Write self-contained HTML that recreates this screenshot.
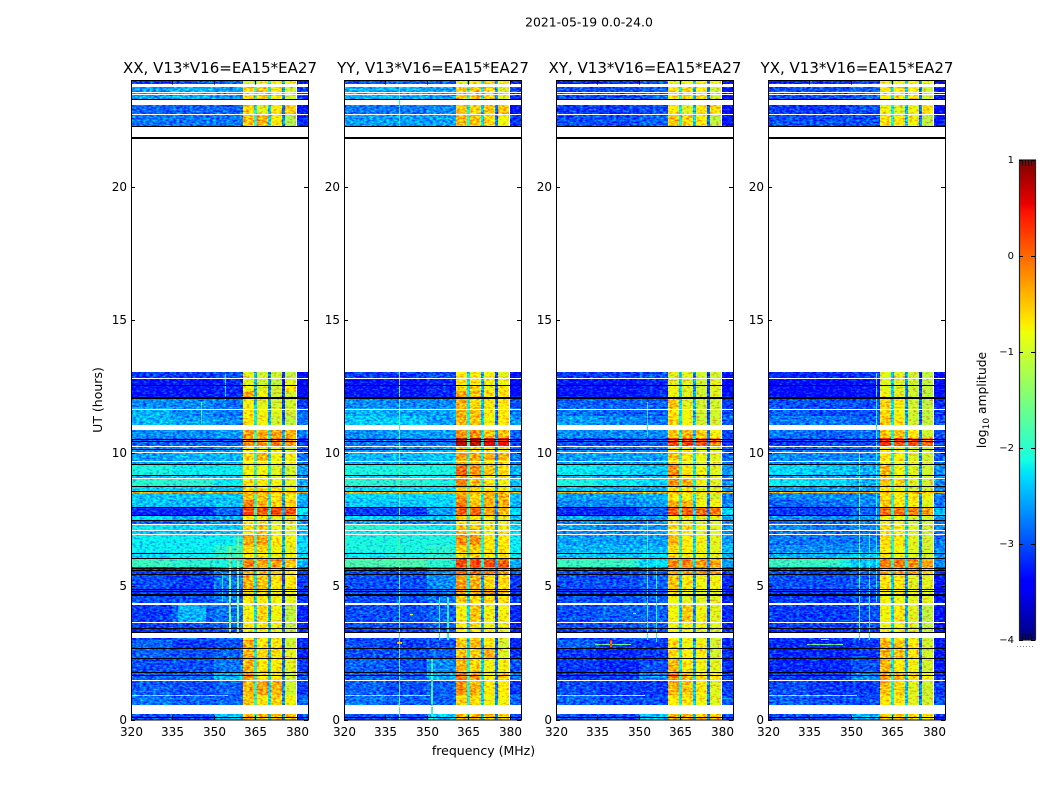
<!DOCTYPE html>
<html>
<head>
<meta charset="utf-8">
<title>2021-05-19 0.0-24.0</title>
<style>
html,body{margin:0;padding:0;background:#fff;}
svg{display:block;font-family:"DejaVu Sans","Liberation Sans",sans-serif;}
</style>
</head>
<body>
<svg id="chart" width="1050" height="800" viewBox="0 0 1050 800" xmlns="http://www.w3.org/2000/svg">
<rect width="1050" height="800" fill="#fff"/>
<text x="589" y="26.5" font-size="12.4" text-anchor="middle">2021-05-19 0.0-24.0</text>
<text x="483.5" y="755" font-size="12.5" text-anchor="middle">frequency (MHz)</text>
<text x="102" y="400" font-size="12.5" text-anchor="middle" transform="rotate(-90 102 400)">UT (hours)</text>
<text x="986" y="400" font-size="12.3" text-anchor="middle" transform="rotate(-90 986 400)">log<tspan font-size="9" dy="3">10</tspan><tspan dy="-3"> amplitude</tspan></text>
<defs id="defs">
<linearGradient id="jetGradient" x1="0" y1="1" x2="0" y2="0"></linearGradient>
</defs>
<g id="panels"></g>
<g id="colorbar"></g>
</svg>
<script>
// ---- Axis data ----
const xTickValues = [320, 335, 350, 365, 380];
const yTickValues = [0, 5, 10, 15, 20];
const colorbarTickValues = [1, 0, -1, -2, -3, -4];
const colorbarMinorValues = [0.92, 0.96, -3.96, -3.92];
const panelTitles = ['XX, V13*V16=EA15*EA27', 'YY, V13*V16=EA15*EA27', 'XY, V13*V16=EA15*EA27', 'YX, V13*V16=EA15*EA27'];

// ---- Frequency columns of each row (MHz edges) ----
const columnLow  = [320, 335, 350, 360.4, 365.7, 370.7, 375.7, 380];
const columnHigh = [335, 350, 360.4, 364.6, 369.6, 374.6, 379.8, 384];
const gapLow  = [364.6, 369.6, 374.6];
const gapHigh = [365.7, 370.7, 375.7];
const gapOffsets = [0.1, -0.2, -0.6];

// ---- Observation rows (UT hours) ----
const rowTop = [23.96,23.73,23.06,22.72,13.04,12.81,12.57,12.33,12.06,11.69,11.39,10.86,10.56,10.26,10.04,9.74,9.57,9.19,9.06,8.76,8.50,8.24,7.97,7.67,7.49,7.34,7.11,6.96,6.55,6.29,6.06,5.72,5.46,4.90,4.67,4.30,3.62,3.43,3.06,2.98,2.68,2.31,1.78,1.44,0.92,0.21];
const rowBottom = [23.85,23.28,22.72,22.27,12.81,12.57,12.33,12.06,11.69,11.39,11.07,10.56,10.26,10.04,9.74,9.57,9.19,9.06,8.76,8.50,8.24,7.97,7.67,7.49,7.34,7.11,6.96,6.55,6.29,6.06,5.72,5.46,4.90,4.67,4.37,3.66,3.43,3.25,2.98,2.68,2.31,1.78,1.50,0.92,0.54,0];

// ---- log10 amplitude per row: c320-335, c335-350, c350-360, band1..4, gaps, c380-384 ----
const valuesXX = [
[-3.1,-3.0,-2.9,-1.0,-.8,-.7,-.8,-2.0,-3.2],
[-2.6,-2.5,-2.6,-.6,-.5,-.7,-1.0,-2.0,-3.1],
[-2.9,-2.9,-2.9,-.6,-.9,-.7,-.5,-2.2,-3.3],
[-2.8,-2.8,-2.8,-.5,-.4,-.7,-1.2,-2.1,-3.2],
[-3.1,-3.1,-3.0,-.9,-1.0,-1.0,-1.1,-2.6,-3.4],
[-3.3,-3.3,-3.2,-.9,-1.0,-1.1,-.9,-2.6,-3.5],
[-3.3,-3.3,-3.2,-.8,-.9,-1.0,-.7,-2.6,-3.5],
[-3.3,-3.3,-3.2,-.3,-.8,-1.0,-1.0,-2.6,-3.5],
[-2.7,-2.7,-2.8,-.8,-.9,-1.0,-1.0,-2.5,-3.1],
[-2.5,-2.7,-2.8,-.7,-.8,-.9,-1.0,-2.4,-2.9],
[-2.5,-2.6,-2.7,-.7,-.8,-1.0,-1.1,-2.3,-2.8],
[-2.7,-2.7,-2.6,-.3,-.4,-.3,-.4,-2.0,-2.8],
[-2.9,-2.9,-2.9,-.2,-.2,-.1,-.3,-2.0,-3.1],
[-2.7,-2.7,-2.6,-.7,-.8,-.8,-1.0,-2.2,-2.9],
[-2.6,-2.5,-2.5,-.6,-.4,-.8,-.8,-2.1,-2.8],
[-2.6,-2.6,-2.5,-.7,-.7,-.8,-.8,-2.1,-2.8],
[-2.1,-2.2,-2.2,-.8,-.8,-.9,-1.0,-2.0,-2.6],
[-2.5,-2.4,-2.4,-.8,-.8,-.9,-1.0,-2.0,-2.7],
[-2.0,-2.0,-2.2,-.7,-.7,-.8,-.9,-1.9,-2.5],
[-2.3,-2.4,-2.4,-.6,-.6,-.7,-.8,-1.9,-2.5],
[-2.4,-2.4,-2.4,-.4,-.5,-.7,-.8,-2.0,-2.5],
[-2.4,-2.5,-2.4,-.15,-.4,-.6,-.6,-2.0,-2.6],
[-3.2,-3.2,-2.9,.15,.1,.2,.1,-2.0,-2.2],
[-2.3,-2.5,-2.5,-.7,-.7,-.9,-.9,-2.0,-2.5],
[-2.9,-2.8,-2.7,-.7,-.8,-.9,-.9,-2.1,-2.6],
[-2.2,-2.3,-2.4,-.6,-.5,-.8,-.9,-2.0,-2.4],
[-2.4,-2.5,-2.4,-.7,-.5,-.8,-.9,-2.0,-2.5],
[-2.2,-2.2,-2.2,-.3,-.3,-.7,-.8,-1.9,-2.3],
[-2.2,-2.2,-2.0,-.6,-.6,-.8,-.9,-1.9,-2.3],
[-2.3,-2.2,-2.0,-.7,-.7,-.8,-.8,-1.9,-2.3],
[-1.9,-2.0,-2.1,-.1,-.3,-.3,-.5,-1.9,-2.5],
[-3.1,-3.1,-2.8,-.4,-.5,-.5,-.7,-2.3,-3.0],
[-3.0,-3.1,-2.8,-.4,-.5,-.7,-.7,-2.4,-3.1],
[-3.1,-3.1,-2.9,-.6,-.6,-.8,-.8,-2.4,-3.1],
[-3.0,-3.0,-2.8,-.7,-.7,-.8,-.9,-2.4,-3.1],
[-3.1,-2.9,-2.8,-.8,-.6,-.8,-1.1,-2.4,-3.2],
[-3.1,-3.0,-2.9,-.7,-.7,-.8,-1.1,-2.3,-3.2],
[-3.2,-3.1,-3.0,-.8,-.8,-.9,-1.1,-2.4,-3.2],
[-3.1,-3.0,-2.9,-.8,-.8,-.9,-1.1,-2.4,-3.2],
[-2.9,-3.1,-3.0,-.4,-.7,-.7,-1.0,-2.4,-3.2],
[-2.9,-3.0,-2.9,-.4,-.6,-.6,-.9,-2.3,-3.2],
[-3.0,-3.0,-2.8,-.4,-.7,-.7,-.9,-2.2,-3.1],
[-2.9,-2.9,-2.5,-.3,-.7,-.7,-1.0,-2.1,-3.0],
[-2.9,-3.0,-2.9,-.4,-.3,-.4,-1.0,-2.1,-3.1],
[-2.8,-2.9,-2.9,-.5,-.7,-.6,-.8,-2.1,-2.9],
[-3.0,-3.0,-2.4,-.4,-.4,-.5,-.5,-2.2,-3.0]
];
const valuesYY = [
[-3.0,-2.9,-2.9,-.9,-.7,-.6,-.7,-2.0,-3.2],
[-2.5,-2.5,-2.6,-.5,-.5,-.6,-.9,-2.0,-3.1],
[-2.8,-2.8,-2.7,-.5,-.6,-.5,-.5,-2.2,-3.3],
[-2.6,-2.6,-2.6,-.5,-.5,-.6,-.8,-2.1,-3.1],
[-3.1,-3.1,-3.0,-.7,-.7,-.8,-.9,-2.4,-3.3],
[-3.3,-3.3,-3.2,-.7,-.7,-.8,-.8,-2.4,-3.4],
[-3.3,-3.3,-3.2,-.6,-.6,-.8,-.7,-2.4,-3.4],
[-3.3,-3.3,-3.2,-.35,-.5,-.7,-.7,-2.4,-3.4],
[-2.7,-2.7,-2.7,-.4,-.6,-.7,-.7,-2.3,-3.0],
[-2.5,-2.6,-2.6,-.4,-.5,-.7,-.7,-2.2,-2.8],
[-2.4,-2.4,-2.6,-.4,-.5,-.8,-.7,-2.2,-2.6],
[-2.7,-2.6,-2.6,-.2,-.2,-.5,-.5,-2.0,-2.9],
[-2.8,-2.8,-2.8,.75,.75,.6,.5,-2.0,-3.0],
[-2.7,-2.6,-2.5,-.5,-.7,-.7,-.8,-2.1,-2.9],
[-2.5,-2.5,-2.4,-.3,-.3,-.4,-.4,-2.0,-2.8],
[-2.5,-2.5,-2.4,-.4,-.5,-.6,-.6,-2.0,-2.8],
[-2.1,-2.1,-2.1,.05,-.2,-.5,-.6,-1.9,-2.5],
[-2.3,-2.3,-2.3,-.3,-.5,-.7,-.8,-1.9,-2.6],
[-2.0,-2.0,-2.1,-.1,-.4,-.7,-.8,-1.9,-2.4],
[-2.3,-2.3,-2.3,-.5,-.6,-.7,-.8,-1.9,-2.4],
[-2.3,-2.3,-2.3,-.3,-.6,-.4,-.4,-2.0,-2.4],
[-2.4,-2.4,-2.3,-.1,-.5,-.4,-.4,-2.0,-2.5],
[-3.1,-3.1,-2.6,.05,.05,-.3,-.4,-2.0,-2.3],
[-2.3,-2.4,-2.4,-.6,-.7,-.8,-.9,-2.0,-2.4],
[-2.6,-2.7,-2.6,-.6,-.7,-.8,-.8,-2.0,-2.5],
[-2.0,-2.1,-2.2,-.4,-.5,-.7,-.8,-1.9,-2.3],
[-2.2,-2.2,-2.2,-.5,-.5,-.8,-.8,-1.9,-2.3],
[-2.1,-2.1,-2.1,-.2,-.2,-.7,-.7,-1.9,-2.2],
[-2.1,-2.1,-2.0,-.5,-.5,-.7,-.7,-1.9,-2.2],
[-2.2,-2.1,-2.0,-.6,-.6,-.7,-.7,-1.9,-2.2],
[-1.8,-1.8,-2.0,.2,.15,.15,.1,-1.9,-2.5],
[-3.0,-3.0,-2.7,.1,.05,-.1,-.2,-2.2,-2.9],
[-3.0,-3.0,-2.7,-.3,-.4,-.6,-.6,-2.4,-3.1],
[-3.0,-3.0,-2.8,-.3,-.4,-.3,-.5,-2.4,-3.1],
[-3.0,-3.0,-2.8,-.5,-.6,-.6,-.7,-2.4,-3.1],
[-3.0,-3.0,-2.9,-.8,-.5,-.8,-.8,-2.4,-3.2],
[-3.0,-3.0,-2.9,-.7,-.6,-.8,-.8,-2.3,-3.2],
[-3.1,-3.1,-3.0,-.7,-.7,-.8,-.9,-2.4,-3.2],
[-3.1,-3.0,-2.9,-.6,-.7,-.8,-.9,-2.4,-3.2],
[-3.0,-3.1,-3.0,-.5,-.4,-.7,-1.0,-2.4,-3.2],
[-3.0,-3.0,-2.9,-.5,-.5,-.4,-.9,-2.3,-3.2],
[-2.9,-3.0,-2.7,-.4,-.6,-.8,-.8,-2.2,-3.0],
[-2.9,-2.9,-2.5,-.1,-.3,-.7,-.5,-2.1,-2.8],
[-2.9,-3.0,-2.9,-.2,-.4,-.7,-.7,-2.1,-3.1],
[-2.8,-2.9,-2.9,-.6,-.6,-.8,-.8,-2.1,-2.9],
[-3.0,-3.0,-2.4,-.4,-.4,-.5,-.6,-2.2,-3.0]
];
const valuesXY = [
[-3.2,-3.1,-3.0,-.8,-.8,-.7,-.8,-2.1,-3.3],
[-3.0,-3.0,-2.9,-.7,-.6,-.7,-1.0,-2.2,-3.3],
[-3.1,-3.1,-3.0,-.7,-.9,-.7,-.6,-2.3,-3.4],
[-3.0,-3.0,-2.9,-.5,-.6,-.7,-1.1,-2.2,-3.3],
[-3.1,-3.1,-3.0,-.9,-.9,-1.0,-1.0,-2.5,-3.3],
[-3.3,-3.3,-3.2,-.9,-.9,-1.0,-.9,-2.5,-3.4],
[-3.3,-3.3,-3.2,-.8,-.9,-1.0,-.9,-2.5,-3.4],
[-3.3,-3.3,-3.2,-.8,-.9,-1.0,-.9,-2.5,-3.4],
[-2.9,-2.9,-2.9,-.5,-.9,-1.0,-1.0,-2.4,-3.1],
[-2.8,-2.9,-2.9,-.7,-.8,-1.0,-1.0,-2.4,-3.0],
[-2.6,-2.7,-2.8,-.6,-.8,-1.0,-1.0,-2.3,-2.9],
[-2.7,-2.7,-2.7,-.5,-.4,-.5,-.8,-2.2,-3.0],
[-3.0,-3.0,-2.9,.2,.2,.1,-.1,-2.2,-3.1],
[-2.7,-2.7,-2.7,-.6,-.7,-.9,-.9,-2.2,-2.9],
[-2.6,-2.6,-2.6,-.5,-.7,-.8,-.9,-2.1,-2.8],
[-2.6,-2.6,-2.6,-.6,-.8,-.9,-.9,-2.1,-2.8],
[-2.2,-2.3,-2.4,-.2,-.7,-.8,-.9,-2.0,-2.6],
[-2.5,-2.5,-2.5,-.4,-.7,-.9,-.9,-2.0,-2.7],
[-2.1,-2.2,-2.3,-.2,-.4,-.8,-.9,-2.0,-2.6],
[-2.4,-2.5,-2.5,-.6,-.7,-.9,-.9,-2.0,-2.6],
[-2.6,-2.6,-2.5,-.7,-.8,-.9,-1.0,-2.1,-2.7],
[-2.7,-2.7,-2.6,-.4,-.4,-.8,-.8,-2.1,-2.7],
[-3.2,-3.2,-2.9,.1,.05,.0,-.05,-2.1,-2.3],
[-2.5,-2.6,-2.6,-.8,-.8,-.9,-.9,-2.1,-2.6],
[-2.7,-2.8,-2.7,-.7,-.8,-.9,-.9,-2.1,-2.7],
[-2.6,-2.7,-2.6,-.6,-.6,-.8,-.9,-2.1,-2.6],
[-2.7,-2.7,-2.6,-.7,-.7,-.9,-.9,-2.1,-2.7],
[-2.6,-2.6,-2.6,-.4,-.7,-.8,-.9,-2.1,-2.6],
[-2.5,-2.5,-2.5,-.6,-.7,-.8,-.9,-2.0,-2.5],
[-2.4,-2.4,-2.3,-.7,-.8,-.8,-.9,-2.0,-2.5],
[-1.9,-2.0,-2.3,-.15,-.15,-.3,-.3,-2.0,-2.6],
[-3.0,-3.1,-2.9,-.3,-.3,-.2,-.3,-2.3,-3.0],
[-3.0,-3.0,-2.9,-.5,-.7,-.8,-.8,-2.5,-3.2],
[-3.1,-3.1,-3.0,-.6,-.8,-.9,-.9,-2.5,-3.2],
[-3.0,-3.0,-2.9,-.8,-.9,-.9,-.9,-2.5,-3.2],
[-3.0,-2.9,-2.9,-.8,-.5,-.8,-.9,-2.4,-3.2],
[-3.0,-3.0,-2.9,-.8,-.8,-.8,-.9,-2.3,-3.2],
[-3.1,-3.1,-3.0,-.8,-.8,-.9,-1.0,-2.4,-3.2],
[-3.1,-3.0,-3.0,-.7,-.8,-.9,-1.0,-2.4,-3.2],
[-2.9,-3.1,-3.1,-.6,-.8,-.8,-1.0,-2.4,-3.2],
[-3.1,-3.2,-3.1,-.6,-.7,-.7,-1.0,-2.3,-3.2],
[-3.1,-3.2,-3.0,-.4,-.7,-.8,-.9,-2.3,-3.2],
[-3.1,-3.1,-2.7,-.1,-.4,-.7,-.7,-2.2,-3.1],
[-3.0,-3.1,-3.1,-.4,-.5,-.7,-.9,-2.2,-3.1],
[-2.9,-3.0,-3.0,-.7,-.7,-.8,-.9,-2.2,-2.9],
[-3.0,-3.0,-2.4,-.4,-.4,-.5,-.5,-2.2,-3.0]
];
const valuesYX = [
[-3.2,-3.1,-3.0,-.8,-.8,-.7,-.8,-2.1,-3.3],
[-3.0,-3.0,-2.9,-.7,-.7,-.7,-1.0,-2.2,-3.3],
[-3.1,-3.1,-3.0,-.8,-.9,-.8,-.7,-2.3,-3.4],
[-3.0,-3.0,-3.0,-.7,-.7,-.8,-1.1,-2.2,-3.3],
[-3.2,-3.2,-3.1,-.9,-.9,-1.0,-1.1,-2.5,-3.4],
[-3.4,-3.4,-3.3,-.9,-.9,-1.0,-1.1,-2.5,-3.4],
[-3.4,-3.4,-3.3,-.9,-.9,-1.0,-1.1,-2.5,-3.4],
[-3.4,-3.4,-3.3,-.8,-.9,-1.0,-1.1,-2.5,-3.4],
[-3.0,-3.0,-3.0,-.6,-.7,-1.0,-1.1,-2.4,-3.2],
[-2.9,-3.0,-3.0,-.6,-.8,-1.0,-1.1,-2.4,-3.1],
[-2.8,-2.8,-2.9,-.5,-.7,-1.0,-1.1,-2.3,-3.0],
[-2.8,-2.9,-2.8,-.5,-.5,-.7,-1.0,-2.2,-3.0],
[-3.1,-3.0,-3.0,.3,.2,.1,.0,-2.2,-3.1],
[-2.8,-2.8,-2.8,-.7,-.8,-.9,-1.0,-2.2,-3.0],
[-2.7,-2.7,-2.7,-.7,-.7,-.9,-1.0,-2.2,-2.9],
[-2.7,-2.7,-2.7,-.7,-.8,-.9,-1.0,-2.2,-2.9],
[-2.3,-2.4,-2.5,-.4,-.8,-.9,-1.0,-2.1,-2.7],
[-2.6,-2.6,-2.6,-.6,-.8,-.9,-1.0,-2.1,-2.8],
[-2.2,-2.3,-2.5,-.5,-.6,-.9,-1.0,-2.1,-2.7],
[-2.6,-2.6,-2.6,-.7,-.8,-1.0,-1.0,-2.1,-2.7],
[-2.7,-2.7,-2.7,-.6,-.8,-.7,-.8,-2.1,-2.8],
[-2.9,-2.8,-2.7,-.5,-.7,-.7,-.9,-2.1,-2.8],
[-3.1,-3.1,-2.9,-.05,-.05,-.15,-.3,-2.1,-2.4],
[-2.6,-2.7,-2.7,-.8,-.8,-1.0,-1.0,-2.1,-2.7],
[-2.8,-2.9,-2.8,-.8,-.8,-1.0,-1.0,-2.1,-2.8],
[-2.7,-2.8,-2.7,-.6,-.7,-.9,-1.0,-2.1,-2.7],
[-2.8,-2.8,-2.8,-.7,-.7,-.9,-1.0,-2.1,-2.8],
[-2.8,-2.8,-2.8,-.6,-.7,-.9,-1.0,-2.1,-2.8],
[-2.7,-2.7,-2.7,-.7,-.8,-.9,-1.0,-2.1,-2.7],
[-2.5,-2.5,-2.4,-.7,-.8,-.9,-1.0,-2.1,-2.6],
[-2.0,-2.1,-2.4,-.1,-.1,-.2,-.3,-2.0,-2.7],
[-3.0,-3.1,-2.9,-.4,-.4,-.3,-.6,-2.3,-3.1],
[-3.0,-3.0,-2.9,-.7,-.7,-.9,-.9,-2.5,-3.3],
[-3.1,-3.1,-3.0,-.7,-.7,-.8,-.9,-2.5,-3.3],
[-3.1,-3.1,-3.0,-.8,-.8,-.9,-.9,-2.5,-3.3],
[-3.1,-3.1,-3.0,-.8,-.7,-.9,-1.1,-2.4,-3.3],
[-3.1,-3.1,-3.0,-.8,-.8,-.9,-1.1,-2.3,-3.3],
[-3.2,-3.2,-3.1,-.8,-.8,-.9,-1.1,-2.4,-3.3],
[-3.2,-3.1,-3.0,-.7,-.8,-.9,-1.1,-2.4,-3.3],
[-3.2,-3.2,-3.1,-.4,-.5,-.7,-1.0,-2.4,-3.3],
[-3.2,-3.2,-3.1,-.4,-.5,-.7,-1.0,-2.3,-3.3],
[-3.2,-3.2,-3.0,-.4,-.7,-.8,-1.0,-2.3,-3.3],
[-3.1,-3.1,-2.7,-.3,-.4,-.6,-.8,-2.2,-3.1],
[-3.0,-3.1,-3.1,-.5,-.6,-.9,-1.0,-2.2,-3.1],
[-2.9,-3.0,-3.0,-.7,-.7,-.9,-1.0,-2.2,-3.0],
[-3.0,-3.0,-2.5,-.5,-.5,-.7,-.7,-2.2,-3.1]
];

// ---- Localised features: lowFreq, highFreq, lowHour, highHour, log10 amplitude ----
const featuresXX = [[337,347,3.66,4.30,-2.5],[320,355,.87,.91,-.5],[320,384,8.49,8.53,-.3],[352.8,353.2,4.4,5.5,-2.2],[355.6,356,3.2,6.5,-1.4],[358.5,358.9,3.2,7,-1.4],[354,354.4,12,13,-2.3],[345.3,345.7,11.1,11.9,-1.8]];
const featuresYY = [[339.8,340.2,0,13.04,-1.7],[339.8,340.2,22.27,23.73,-2.0],[351.6,352,0,2.3,-1.9],[320,351,.87,.91,-.6],[320,384,8.49,8.53,-.4],[354.4,354.8,3,4.6,-2.0],[357.4,357.8,3,4.6,-2.0],[339,341,2.85,2.9,-.5],[344,345,3.92,3.96,-.9]];
const featuresXY = [[334,347,2.8,2.84,-1.6],[339.6,340.4,2.72,3,.1],[320,352,.87,.91,-.7],[320,384,8.49,8.53,-.4],[353,353.4,3,7.5,-1.9],[356,356.4,2.9,6,-2.0],[353,353.4,10.6,11.9,-2.0],[321,347,5.8,6.05,-1.9],[348,349,3.96,4,-.4]];
const featuresYX = [[334,347,2.8,2.84,-1.6],[339,342,2.98,3.02,-.6],[320,352,.87,.91,-.6],[320,384,8.49,8.53,-.4],[353,353.4,3,10,-1.6],[356.4,356.8,3,7,-2.0],[359,359.3,4.4,13,-1.9],[321,346,5.8,6.05,-1.9]];

// ---- Flagged times (UT hours) common to all panels ----
const blackLineHours = [23.28,22.27,21.86,21.84,12.57,12.09,12.07,10.54,10.47,10.44,10.15,9.57,9.19,9.17,8.76,8.57,7.98,7.67,7.47,6.26,6.07,5.67,5.61,5.45,4.88,4.82,4.70,4.66,3.42,3.27,2.67,2.30,1.77,1.67,.08];
const whiteLineHours = [23.55,23.49,22.72,12.81,11.67,10.26,10.04,9.72,9.07,7.34,7.11,6.98,3.45,.52];

// ---- Log-colour scale ----
const colorMin = -4;
const colorMax = 1;

const SVGNS = 'http://www.w3.org/2000/svg';
const panelLeft = [131, 344, 556, 768];
const panelValues = [valuesXX, valuesYY, valuesXY, valuesYX];
const panelFeatures = [featuresXX, featuresYY, featuresXY, featuresYX];
const PANEL_W = 177, TOP = 80, BOTTOM = 719.5, CB_X = 1019, CB_W = 16, CB_TOP = 160, CB_BOTTOM = 640;
const FREQ_MIN = 320, FREQ_MAX = 384, HOUR_MAX = 24;

function xScale(left, mhz) { return left + (mhz - FREQ_MIN) / (FREQ_MAX - FREQ_MIN) * PANEL_W; }
function yScale(hour) { return BOTTOM - hour / HOUR_MAX * (BOTTOM - TOP); }
function cbScale(v) { return CB_BOTTOM - (v - colorMin) / (colorMax - colorMin) * (CB_BOTTOM - CB_TOP); }

function interp(stops, t) {
  for (let i = 1; i < stops.length; i++) {
    if (t <= stops[i][0]) {
      const a = stops[i - 1], b = stops[i];
      return a[1] + (b[1] - a[1]) * (t - a[0]) / (b[0] - a[0]);
    }
  }
  return stops[stops.length - 1][1];
}
const jetR = [[0,0],[.35,0],[.66,1],[.89,1],[1,.5]];
const jetG = [[0,0],[.125,0],[.375,1],[.64,1],[.91,0],[1,0]];
const jetB = [[0,.5],[.11,1],[.34,1],[.65,0],[1,0]];
function jet(v) {
  const t = Math.max(0, Math.min(1, (v - colorMin) / (colorMax - colorMin)));
  const c = [jetR, jetG, jetB].map(s => Math.round(interp(s, t) * 255));
  return 'rgb(' + c.join(',') + ')';
}

function node(parent, tag, attrs, txt) {
  const el = document.createElementNS(SVGNS, tag);
  for (const k in attrs) el.setAttribute(k, attrs[k]);
  if (txt !== undefined) el.textContent = txt;
  parent.appendChild(el);
  return el;
}

function cell(g, left, f0, f1, h0, h1, v) {
  const x0 = Math.round(xScale(left, f0)), x1 = Math.round(xScale(left, f1));
  const y0 = Math.round(yScale(h1)), y1 = Math.round(yScale(h0));
  const r = node(g, 'rect', {x: x0, y: y0, width: Math.max(1, x1 - x0), height: Math.max(1, y1 - y0), fill: jet(v), 'shape-rendering': 'crispEdges'});
  
  
}

function hline(g, left, hour, color, name) {
  const y = Math.round(yScale(hour));
  const r = node(g, 'rect', {x: left, y: y, width: PANEL_W, height: 1, fill: color, 'shape-rendering': 'crispEdges'});
  
  
}

// Decorative receiver-speckle texture: perturbs the green channel of the cells, carries no data.
function speckleFilter(id, left, seed) {
  const defs = document.getElementById('defs');
  const f = node(defs, 'filter', {id: id, filterUnits: 'userSpaceOnUse', x: left, y: TOP, width: PANEL_W + 1, height: BOTTOM - TOP + 1, 'color-interpolation-filters': 'sRGB'});
  node(f, 'feTurbulence', {type: 'fractalNoise', baseFrequency: '0.3 0.55', numOctaves: 2, seed: seed, result: 'raw'});
  node(f, 'feColorMatrix', {in: 'raw', type: 'matrix', values: '0 0 0 0 .5  1 0 0 0 0  0 0 0 0 .5  0 0 0 0 1', result: 'noise'});
  node(f, 'feComposite', {in: 'SourceGraphic', in2: 'noise', operator: 'arithmetic', k1: 0, k2: 1, k3: 1.4, k4: -.7, result: 'mixed'});
  node(f, 'feComposite', {in: 'mixed', in2: 'SourceAlpha', operator: 'in'});
}

const panelsRoot = document.getElementById('panels');

panelTitles.forEach(function (title, p) {
  const left = panelLeft[p];
  const g = node(panelsRoot, 'g', {});
  
  

  speckleFilter('speckle' + p, left, p * 7 + 3);
  const cells = node(g, 'g', {filter: 'url(#speckle' + p + ')'});
  
  

  const values = panelValues[p];
  rowTop.forEach(function (top, r) {
    const bottom = rowBottom[r], row = values[r];
    columnLow.forEach(function (f0, c) {
      const v = c < 7 ? row[c] : row[8];
      cell(cells, left, f0, columnHigh[c], bottom, top, v);
    });
    gapLow.forEach(function (f0, c) {
      cell(cells, left, f0, gapHigh[c], bottom, top, row[7] + gapOffsets[c]);
    });
  });

  panelFeatures[p].forEach(function (f) {
    cell(cells, left, f[0], f[1], f[2], f[3], f[4]);
  });

  whiteLineHours.forEach(function (h) { hline(g, left, h, '#fff', 'flag-line-white'); });
  blackLineHours.forEach(function (h) { hline(g, left, h, '#000', 'flag-line-black'); });

  const frame = node(g, 'rect', {x: left + .5, y: TOP + .5, width: PANEL_W, height: BOTTOM - TOP, fill: 'none', stroke: '#000', 'stroke-width': 1});
  
  

  const t = node(g, 'text', {x: left + 89, y: 73, 'font-size': 15, 'text-anchor': 'middle'}, title);
  
  

  xTickValues.forEach(function (v) {
    const x = Math.round(xScale(left, v)) + .5;
    const a = node(g, 'path', {d: 'M' + x + ' ' + BOTTOM + 'v-4M' + x + ' ' + (TOP + .5) + 'v4', stroke: '#000', fill: 'none'});
    
    
    const l = node(g, 'text', {x: x, y: 736, 'font-size': 12, 'text-anchor': 'middle'}, String(v));
    
    
  });
  yTickValues.forEach(function (v) {
    const y = Math.round(yScale(v)) + .5;
    const a = node(g, 'path', {d: 'M' + left + ' ' + y + 'h4M' + (left + PANEL_W) + ' ' + y + 'h-4', stroke: '#000', fill: 'none'});
    
    
    const l = node(g, 'text', {x: left - 4, y: y + 3.5, 'font-size': 12, 'text-anchor': 'end'}, String(v));
    
    
  });
});

// ---- Colour bar ----
const grad = document.getElementById('jetGradient');
[0,.11,.125,.34,.35,.375,.5,.64,.65,.66,.89,.91,1].forEach(function (t) {
  node(grad, 'stop', {offset: t, 'stop-color': jet(colorMin + t * (colorMax - colorMin))});
});
const cb = document.getElementById('colorbar');
const cbRamp = node(cb, 'rect', {x: CB_X + .5, y: CB_TOP, width: CB_W, height: CB_BOTTOM - CB_TOP, fill: 'url(#jetGradient)', stroke: '#222', 'stroke-width': 1.2});


colorbarTickValues.forEach(function (v) {
  const y = Math.round(cbScale(v)) + .5;
  const a = node(cb, 'path', {d: 'M' + CB_X + ' ' + y + 'h4M' + (CB_X + CB_W) + ' ' + y + 'h-4', stroke: '#000', fill: 'none'});
  
  
  const label = v < 0 ? '\u2212' + Math.abs(v) : String(v);
  const l = node(cb, 'text', {x: 1014, y: cbScale(v) + 3, 'font-size': 10, 'text-anchor': 'end'}, label);
  
  
});
colorbarMinorValues.forEach(function (v) {
  const top = v > 0;
  const y = top ? CB_TOP : CB_BOTTOM - 6;
  [3, 6, 9, 12].forEach(function (dx) {
    const m = node(cb, 'rect', {x: CB_X + dx, y: y, width: 1, height: 6, fill: '#000', 'shape-rendering': 'crispEdges'});
    
    
  });
});
const dots = node(cb, 'path', {d: 'M1017 646.5H1035', stroke: '#888', 'stroke-width': 1, 'stroke-dasharray': '1 2', fill: 'none'});


</script>
</body>
</html>
